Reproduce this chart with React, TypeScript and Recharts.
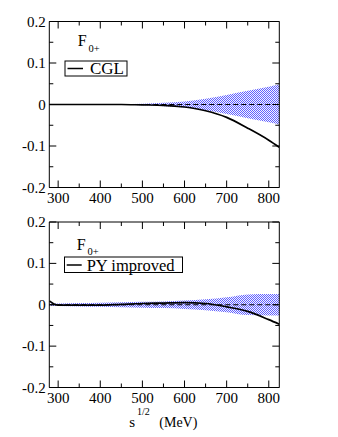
import React from "react";
import { ComposedChart, Line, Area, XAxis, YAxis } from "recharts";

// sqrt(s) in MeV
const sqrtS = [279, 290, 300, 350, 400, 450, 500, 550, 600, 650, 700, 750, 800, 825];

// Top panel (CGL)
const cglCurve = [0, 0, 0, 0, 0, 0, -0.001, -0.002, -0.006, -0.015, -0.031, -0.057, -0.086, -0.103];
const cglBandUpper = [0.0005, 0.0005, 0.0005, 0.0008, 0.001, 0.0015, 0.002, 0.004, 0.007, 0.014, 0.023, 0.033, 0.043, 0.048];
const cglBandLower = [-0.0005, -0.0005, -0.0005, -0.0008, -0.001, -0.0015, -0.002, -0.004, -0.007, -0.014, -0.023, -0.033, -0.043, -0.048];
const cglCenter = [0, 0, 0, 0, 0, 0, 0, 0, 0, 0, 0, 0, 0, 0];

// Bottom panel (PY improved)
const pyCurve = [0.009, 0.002, -0.001, -0.001, -0.001, 0.001, 0.003, 0.004, 0.005, 0.003, -0.005, -0.016, -0.036, -0.047];
const pyBandUpper = [0.003, 0.003, 0.003, 0.004, 0.005, 0.006, 0.007, 0.008, 0.01, 0.013, 0.018, 0.025, 0.026, 0.026];
const pyBandLower = [-0.003, -0.003, -0.003, -0.004, -0.005, -0.006, -0.007, -0.008, -0.01, -0.013, -0.018, -0.025, -0.026, -0.026];
const pyCenter = [0, 0, 0, 0, 0, 0, 0, 0, 0, 0, 0, 0, 0, 0];

const xTicks = [300, 350, 400, 450, 500, 550, 600, 650, 700, 750, 800];
const yTicks = [-0.2, -0.15, -0.1, -0.05, 0, 0.05, 0.1, 0.15, 0.2];
const xDomain = [279, 825];
const yDomain = [-0.2, 0.2];

const FONT = "'Liberation Serif', 'Times New Roman', serif";

const isMajorX = (v: number) => Math.abs(v % 100) < 1e-6;
const isMajorY = (v: number) => Math.abs(Math.round(v * 10) - v * 10) < 1e-6;
const fmtY = (v: number) => {
  const r = Math.round(v * 10) / 10;
  return r === 0 ? "0" : String(r);
};

const BottomTick = (props: any) => {
  const { x, y, payload } = props;
  const v = payload.value;
  const major = isMajorX(v);
  return (
    <g>
      <line x1={x} y1={y} x2={x} y2={y - (major ? 7 : 4)} stroke="#000" strokeWidth={1} />
      {major && (
        <text x={x} y={y + 15.5} textAnchor="middle" fontSize={15} fontFamily={FONT} fill="#000">
          {v}
        </text>
      )}
    </g>
  );
};

const TopTick = (props: any) => {
  const { x, y, payload } = props;
  const major = isMajorX(payload.value);
  return <line x1={x} y1={y} x2={x} y2={y + (major ? 7 : 4)} stroke="#000" strokeWidth={1} />;
};

const LeftTick = (props: any) => {
  const { x, y, payload } = props;
  const v = payload.value;
  const major = isMajorY(v);
  return (
    <g>
      <line x1={x} y1={y} x2={x + (major ? 7 : 4)} y2={y} stroke="#000" strokeWidth={1} />
      {major && (
        <text x={x - 3.5} y={y + 5} textAnchor="end" fontSize={15} fontFamily={FONT} fill="#000">
          {fmtY(v)}
        </text>
      )}
    </g>
  );
};

const RightTick = (props: any) => {
  const { x, y, payload } = props;
  const major = isMajorY(payload.value);
  return <line x1={x} y1={y} x2={x - (major ? 7 : 4)} y2={y} stroke="#000" strokeWidth={1} />;
};

type PanelProps = {
  curve: number[];
  upper: number[];
  lower: number[];
  center: number[];
  height: number;
  margin: { top: number; bottom: number; left: number; right: number };
  patternId: string;
};

const Panel = ({ curve, upper, lower, center, height, margin, patternId }: PanelProps) => {
  const data = sqrtS.map((s, i) => ({
    s,
    curve: curve[i],
    center: center[i],
    band: [lower[i], upper[i]],
  }));
  return (
    <ComposedChart width={338} height={height} data={data} margin={margin}>
      <defs>
        <pattern id={patternId} patternUnits="userSpaceOnUse" width={2} height={2}>
          <rect x={0} y={0} width={2} height={2} fill="#f4f4ff" />
          <rect x={0} y={0} width={1} height={1} fill="#6262ff" />
          <rect x={1} y={1} width={1} height={1} fill="#6262ff" />
        </pattern>
      </defs>
      <XAxis
        xAxisId="b"
        dataKey="s"
        type="number"
        domain={xDomain}
        ticks={xTicks}
        interval={0}
        allowDataOverflow
        height={1}
        tickSize={0}
        tickMargin={0}
        tick={<BottomTick />}
        tickLine={false}
        axisLine={{ stroke: "#000", strokeWidth: 1 }}
      />
      <XAxis
        xAxisId="t"
        orientation="top"
        dataKey="s"
        type="number"
        domain={xDomain}
        ticks={xTicks}
        interval={0}
        allowDataOverflow
        height={1}
        tickSize={0}
        tickMargin={0}
        tick={<TopTick />}
        tickLine={false}
        axisLine={{ stroke: "#000", strokeWidth: 1 }}
      />
      <YAxis
        yAxisId="l"
        type="number"
        domain={yDomain}
        ticks={yTicks}
        interval={0}
        allowDataOverflow
        width={1}
        tickSize={0}
        tickMargin={0}
        tick={<LeftTick />}
        tickLine={false}
        axisLine={{ stroke: "#000", strokeWidth: 1 }}
      />
      <YAxis
        yAxisId="r"
        orientation="right"
        type="number"
        domain={yDomain}
        ticks={yTicks}
        interval={0}
        allowDataOverflow
        width={1}
        tickSize={0}
        tickMargin={0}
        tick={<RightTick />}
        tickLine={false}
        axisLine={{ stroke: "#000", strokeWidth: 1 }}
      />
      <Area
        xAxisId="b"
        yAxisId="l"
        type="monotone"
        dataKey="band"
        stroke="none"
        fill={`url(#${patternId})`}
        fillOpacity={1}
        isAnimationActive={false}
      />
      <Line
        xAxisId="b"
        yAxisId="l"
        type="monotone"
        dataKey="center"
        stroke="#000"
        strokeWidth={1.2}
        strokeDasharray="5 3"
        dot={false}
        isAnimationActive={false}
      />
      <Line
        xAxisId="b"
        yAxisId="l"
        type="monotone"
        dataKey="curve"
        stroke="#000"
        strokeWidth={1.7}
        dot={false}
        isAnimationActive={false}
      />
    </ComposedChart>
  );
};

export default function App() {
  return (
    <div style={{ position: "absolute", left: 0, top: 0, width: 338, height: 437, background: "#fff" }}>
      <div style={{ position: "absolute", left: 0, top: 0 }}>
        <Panel
          curve={cglCurve}
          upper={cglBandUpper}
          lower={cglBandLower}
          center={cglCenter}
          height={210}
          margin={{ top: 20.5, bottom: 21.5, left: 48.3, right: 57.7 }}
          patternId="dotsTop"
        />
      </div>
      <div style={{ position: "absolute", left: 0, top: 210 }}>
        <Panel
          curve={pyCurve}
          upper={pyBandUpper}
          lower={pyBandLower}
          center={pyCenter}
          height={227}
          margin={{ top: 11, bottom: 48.5, left: 48.3, right: 57.7 }}
          patternId="dotsBottom"
        />
      </div>
      <svg
        width={338}
        height={437}
        style={{ position: "absolute", left: 0, top: 0, pointerEvents: "none" }}
        fontFamily={FONT}
      >
        {/* top legend */}
        <text x={77.7} y={46} fontSize={16} fill="#000">F</text>
        <text x={88.5} y={52} fontSize={10.5} fill="#000">0+</text>
        <rect x={65} y={61} width={62} height={15} fill="#fff" stroke="#000" strokeWidth={1} />
        <line x1={67.5} y1={68.5} x2={83} y2={68.5} stroke="#000" strokeWidth={1.5} />
        <text x={90} y={74} fontSize={17} fill="#000">CGL</text>
        {/* bottom legend */}
        <text x={76.7} y={249.5} fontSize={16} fill="#000">F</text>
        <text x={87.5} y={254.5} fontSize={10.5} fill="#000">0+</text>
        <rect x={64.5} y={257} width={118} height={15.5} fill="#fff" stroke="#000" strokeWidth={1} />
        <line x1={66.7} y1={265} x2={81.7} y2={265} stroke="#000" strokeWidth={1.5} />
        <text x={86.7} y={270.5} fontSize={16.5} fill="#000">PY improved</text>
        {/* axis title */}
        <text x={129.3} y={426.5} fontSize={15} fill="#000">s</text>
        <text x={137} y={415} fontSize={10} fill="#000">1/2</text>
        <text x={159.3} y={427} fontSize={14} fill="#000">(MeV)</text>
      </svg>
    </div>
  );
}
